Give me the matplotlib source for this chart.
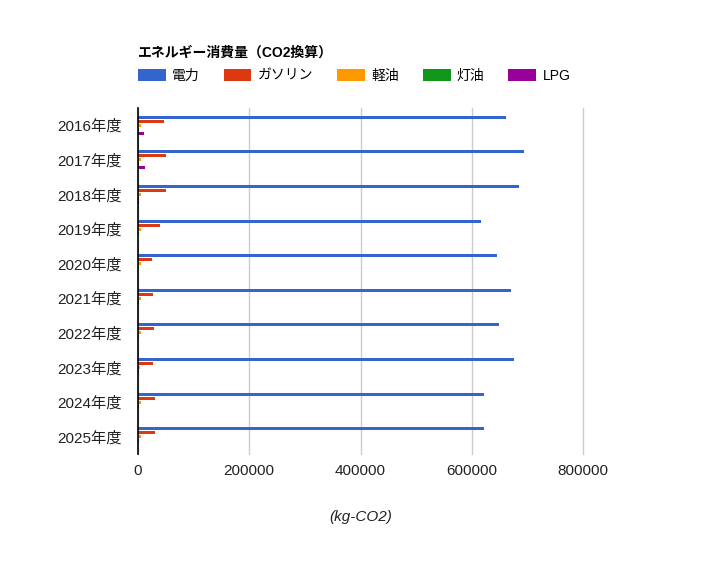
import numpy as np
import matplotlib.pyplot as plt
from matplotlib.patches import Patch

plt.rcParams['font.family'] = ['Liberation Sans', 'Noto Sans CJK JP']

# data (kg-CO2)
years = ['2016年度', '2017年度', '2018年度', '2019年度', '2020年度',
         '2021年度', '2022年度', '2023年度', '2024年度', '2025年度']
electricity = [662000, 694500, 685500, 617500, 646000, 671000, 649500, 676500, 622500, 622500]
gasoline = [46000, 49500, 49500, 39000, 24500, 26500, 28000, 26500, 30000, 30000]
diesel = [4800, 4800, 4800, 4800, 4800, 4800, 4800, 4200, 4800, 4800]
kerosene = [1000, 1000, 1000, 1000, 1000, 1000, 1000, 1000, 1000, 1000]
lpg = [10000, 12000, 2500, 800, 800, 800, 800, 800, 800, 800]

series = [('電力', electricity, '#3366cc'),
          ('ガソリン', gasoline, '#dc3912'),
          ('軽油', diesel, '#ff9900'),
          ('灯油', kerosene, '#109618'),
          ('LPG', lpg, '#990099')]

fig = plt.figure(figsize=(7.21, 5.62), dpi=100)
ax = fig.add_axes([138/721, 1 - 454/562, 445/721, 346/562])

y = np.arange(len(years))
step = 4 / 34.6
for i, (name, vals, col) in enumerate(series):
    ax.barh(y + (i - 2) * step, vals, height=3 / 34.6, color=col, zorder=3)

ax.set_xlim(0, 800000)
ax.set_ylim(len(years) - 0.5, -0.5)
ax.set_yticks(y)
ax.set_yticklabels(years, fontsize=11, color='#222222')
ax.set_xticks([0, 200000, 400000, 600000, 800000])
ax.set_xticklabels(['0', '200000', '400000', '600000', '800000'], fontsize=11, color='#222222')
ax.tick_params(length=0)
ax.tick_params(axis='y', pad=12)
ax.tick_params(axis='x', pad=7)
ax.grid(axis='x', color='#cccccc', linewidth=1, zorder=0)
for gl in ax.get_xgridlines():
    gl.set_clip_on(False)
for s in ['top', 'right', 'bottom']:
    ax.spines[s].set_visible(False)
ax.spines['left'].set_color('black')
ax.spines['left'].set_linewidth(1.2)
ax.spines['left'].set_zorder(4)

ax.set_xlabel('(kg-CO2)', fontsize=11, style='italic', color='#222222', labelpad=23)

fig.text(138/721, 1 - 53/562, 'エネルギー消費量（CO2換算）', fontsize=10,
         fontweight='bold', va='center', ha='left')

handles = [Patch(facecolor=c, edgecolor='none') for _, _, c in series]
labels = [n for n, _, _ in series]
fig.legend(handles, labels, loc='upper left', bbox_to_anchor=(138/721, 1 - 69/562),
           ncol=5, frameon=False, fontsize=10, borderpad=0, borderaxespad=0,
           handlelength=2.0, handleheight=0.93, handletextpad=0.45, columnspacing=1.72)

fig.savefig('out.png', dpi=100)
